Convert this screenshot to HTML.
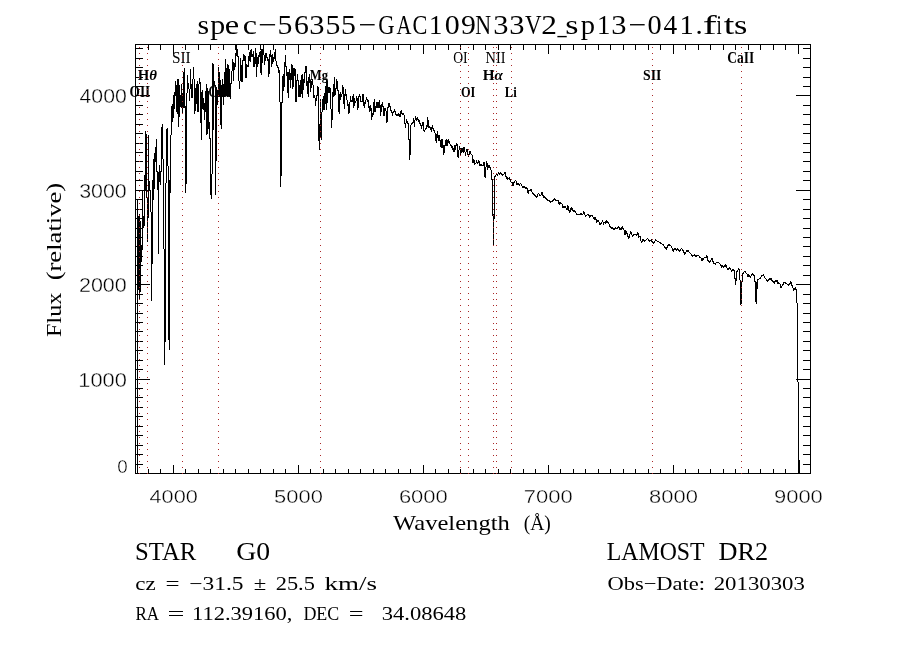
<!DOCTYPE html>
<html><head><meta charset="utf-8"><style>html,body{margin:0;padding:0;background:#fff;width:900px;height:650px;overflow:hidden}svg{display:block;will-change:transform}</style></head>
<body><svg width="900" height="650" viewBox="0 0 900 650" shape-rendering="crispEdges"><rect x="135.5" y="44.5" width="675" height="429" fill="none" stroke="#000" stroke-width="1"/><path d="M148.5 473V469M148.5 45V50M160.5 473V469M160.5 45V50M173.5 473V465M173.5 45V54M185.5 473V469M185.5 45V50M198.5 473V469M198.5 45V50M210.5 473V469M210.5 45V50M223.5 473V469M223.5 45V50M235.5 473V469M235.5 45V50M248.5 473V469M248.5 45V50M260.5 473V469M260.5 45V50M273.5 473V469M273.5 45V50M285.5 473V469M285.5 45V50M298.5 473V465M298.5 45V54M310.5 473V469M310.5 45V50M323.5 473V469M323.5 45V50M335.5 473V469M335.5 45V50M348.5 473V469M348.5 45V50M360.5 473V469M360.5 45V50M373.5 473V469M373.5 45V50M385.5 473V469M385.5 45V50M398.5 473V469M398.5 45V50M410.5 473V469M410.5 45V50M423.5 473V465M423.5 45V54M435.5 473V469M435.5 45V50M448.5 473V469M448.5 45V50M460.5 473V469M460.5 45V50M473.5 473V469M473.5 45V50M485.5 473V469M485.5 45V50M498.5 473V469M498.5 45V50M510.5 473V469M510.5 45V50M523.5 473V469M523.5 45V50M535.5 473V469M535.5 45V50M548.5 473V465M548.5 45V54M560.5 473V469M560.5 45V50M573.5 473V469M573.5 45V50M585.5 473V469M585.5 45V50M598.5 473V469M598.5 45V50M610.5 473V469M610.5 45V50M623.5 473V469M623.5 45V50M635.5 473V469M635.5 45V50M648.5 473V469M648.5 45V50M660.5 473V469M660.5 45V50M673.5 473V465M673.5 45V54M685.5 473V469M685.5 45V50M698.5 473V469M698.5 45V50M710.5 473V469M710.5 45V50M723.5 473V469M723.5 45V50M735.5 473V469M735.5 45V50M748.5 473V469M748.5 45V50M760.5 473V469M760.5 45V50M773.5 473V469M773.5 45V50M785.5 473V469M785.5 45V50M798.5 473V465M798.5 45V54" stroke="#000" stroke-width="1" fill="none"/><path d="M136 464.5H143M810 464.5H803M136 454.5H143M810 454.5H803M136 445.5H143M810 445.5H803M136 435.5H143M810 435.5H803M136 426.5H143M810 426.5H803M136 416.5H143M810 416.5H803M136 407.5H143M810 407.5H803M136 397.5H143M810 397.5H803M136 388.5H143M810 388.5H803M136 379.5H150M810 379.5H796M136 369.5H143M810 369.5H803M136 360.5H143M810 360.5H803M136 350.5H143M810 350.5H803M136 341.5H143M810 341.5H803M136 331.5H143M810 331.5H803M136 322.5H143M810 322.5H803M136 313.5H143M810 313.5H803M136 303.5H143M810 303.5H803M136 294.5H143M810 294.5H803M136 284.5H150M810 284.5H796M136 275.5H143M810 275.5H803M136 265.5H143M810 265.5H803M136 256.5H143M810 256.5H803M136 246.5H143M810 246.5H803M136 237.5H143M810 237.5H803M136 228.5H143M810 228.5H803M136 218.5H143M810 218.5H803M136 209.5H143M810 209.5H803M136 199.5H143M810 199.5H803M136 190.5H150M810 190.5H796M136 180.5H143M810 180.5H803M136 171.5H143M810 171.5H803M136 161.5H143M810 161.5H803M136 152.5H143M810 152.5H803M136 143.5H143M810 143.5H803M136 133.5H143M810 133.5H803M136 124.5H143M810 124.5H803M136 114.5H143M810 114.5H803M136 105.5H143M810 105.5H803M136 95.5H150M810 95.5H796M136 86.5H143M810 86.5H803M136 77.5H143M810 77.5H803M136 67.5H143M810 67.5H803M136 58.5H143M810 58.5H803M136 48.5H143M810 48.5H803" stroke="#000" stroke-width="1" fill="none"/><path d="M137 199h1v274h-1zM138 216h1v74h-1zM139 214h1v85h-1zM140 221h1v71h-1zM141 245h1v17h-1zM142 191h1v59h-1zM143 216h1v12h-1zM144 175h1v51h-1zM145 131h1v59h-1zM146 134h1v64h-1zM147 197h1v45h-1zM148 135h1v83h-1zM149 181h1v9h-1zM150 190h1v22h-1zM151 212h1v89h-1zM152 180h1v84h-1zM153 159h1v41h-1zM154 153h1v36h-1zM155 147h1v15h-1zM156 139h1v33h-1zM157 171h1v19h-1zM158 172h1v82h-1zM159 165h1v17h-1zM160 171h1v14h-1zM161 127h1v45h-1zM162 124h1v35h-1zM163 159h1v90h-1zM164 249h1v116h-1zM165 183h1v159h-1zM166 129h1v54h-1zM167 128h1v38h-1zM168 166h1v174h-1zM169 180h1v170h-1zM170 135h1v58h-1zM171 106h1v29h-1zM172 104h1v18h-1zM173 95h1v23h-1zM174 92h1v17h-1zM175 81h1v15h-1zM176 85h1v27h-1zM177 79h1v35h-1zM178 79h1v48h-1zM179 85h1v32h-1zM180 95h1v12h-1zM181 84h1v24h-1zM182 93h1v21h-1zM183 72h1v36h-1zM184 68h1v40h-1zM185 106h1v87h-1zM186 93h1v91h-1zM187 75h1v18h-1zM188 83h1v6h-1zM189 89h1v12h-1zM190 69h1v20h-1zM191 84h1v14h-1zM192 79h1v19h-1zM193 67h1v12h-1zM194 79h1v35h-1zM195 88h1v23h-1zM196 84h1v20h-1zM197 81h1v31h-1zM198 84h1v28h-1zM199 78h1v6h-1zM200 82h1v41h-1zM201 92h1v48h-1zM202 90h1v19h-1zM203 98h1v12h-1zM204 103h1v17h-1zM205 91h1v21h-1zM206 84h1v51h-1zM207 88h1v46h-1zM208 91h1v38h-1zM209 122h1v17h-1zM210 138h1v57h-1zM211 174h1v25h-1zM212 63h1v111h-1zM213 64h1v66h-1zM214 81h1v5h-1zM215 85h1v110h-1zM216 87h1v74h-1zM217 90h1v15h-1zM218 67h1v30h-1zM219 72h1v25h-1zM220 80h1v45h-1zM221 85h1v44h-1zM222 79h1v18h-1zM223 84h1v21h-1zM224 72h1v24h-1zM225 59h1v37h-1zM226 68h1v28h-1zM227 64h1v33h-1zM228 65h1v31h-1zM229 69h1v27h-1zM230 83h1v16h-1zM231 71h1v13h-1zM232 59h1v12h-1zM233 62h1v19h-1zM234 63h1v7h-1zM235 53h1v14h-1zM236 44h1v12h-1zM237 49h1v8h-1zM238 56h1v25h-1zM239 81h1v8h-1zM240 58h1v23h-1zM241 65h1v17h-1zM242 60h1v22h-1zM243 54h1v7h-1zM244 55h1v6h-1zM245 56h1v22h-1zM246 64h1v14h-1zM247 65h1v2h-1zM248 56h1v11h-1zM249 52h1v9h-1zM250 50h1v12h-1zM251 49h1v8h-1zM252 54h1v3h-1zM253 51h1v16h-1zM254 57h1v10h-1zM255 48h1v16h-1zM256 53h1v24h-1zM257 57h1v10h-1zM258 55h1v9h-1zM259 52h1v5h-1zM260 51h1v22h-1zM261 49h1v26h-1zM262 49h1v14h-1zM263 45h1v10h-1zM264 55h1v10h-1zM265 53h1v8h-1zM266 53h1v5h-1zM267 57h1v4h-1zM268 59h1v18h-1zM269 54h1v20h-1zM270 50h1v7h-1zM271 55h1v12h-1zM272 54h1v10h-1zM273 57h1v5h-1zM274 52h1v7h-1zM275 49h1v12h-1zM276 61h1v5h-1zM277 65h1v3h-1zM278 67h1v6h-1zM279 70h1v32h-1zM280 102h1v85h-1zM281 102h1v74h-1zM282 76h1v27h-1zM283 74h1v17h-1zM284 62h1v25h-1zM285 55h1v12h-1zM286 66h1v10h-1zM287 72h1v21h-1zM288 72h1v26h-1zM289 69h1v11h-1zM290 73h1v15h-1zM291 64h1v16h-1zM292 65h1v24h-1zM293 68h1v19h-1zM294 68h1v8h-1zM295 69h1v33h-1zM296 80h1v22h-1zM297 74h1v7h-1zM298 80h1v17h-1zM299 85h1v12h-1zM300 80h1v17h-1zM301 75h1v19h-1zM302 74h1v24h-1zM303 79h1v11h-1zM304 72h1v11h-1zM305 66h1v7h-1zM306 66h1v20h-1zM307 81h1v13h-1zM308 77h1v20h-1zM309 74h1v9h-1zM310 80h1v12h-1zM311 81h1v7h-1zM312 79h1v6h-1zM313 85h1v13h-1zM314 95h1v3h-1zM315 98h1v8h-1zM316 95h1v6h-1zM317 86h1v10h-1zM318 87h1v54h-1zM319 124h1v26h-1zM320 99h1v38h-1zM321 112h1v28h-1zM322 99h1v13h-1zM323 96h1v14h-1zM324 93h1v17h-1zM325 86h1v18h-1zM326 80h1v30h-1zM327 81h1v22h-1zM328 87h1v6h-1zM329 87h1v6h-1zM330 88h1v21h-1zM331 109h1v19h-1zM332 92h1v28h-1zM333 84h1v13h-1zM334 77h1v19h-1zM335 88h1v7h-1zM336 79h1v10h-1zM337 81h1v10h-1zM338 90h1v22h-1zM339 94h1v20h-1zM340 92h1v8h-1zM341 94h1v3h-1zM342 85h1v9h-1zM343 87h1v17h-1zM344 94h1v15h-1zM345 89h1v7h-1zM346 94h1v6h-1zM347 100h1v6h-1zM348 104h1v10h-1zM349 102h1v11h-1zM350 96h1v6h-1zM351 100h1v2h-1zM352 96h1v6h-1zM353 94h1v14h-1zM354 98h1v8h-1zM355 101h1v2h-1zM356 96h1v5h-1zM357 98h1v12h-1zM358 96h1v12h-1zM359 94h1v3h-1zM360 96h1v6h-1zM361 101h1v1h-1zM362 94h1v8h-1zM363 94h1v12h-1zM364 102h1v6h-1zM365 100h1v4h-1zM366 97h1v3h-1zM367 99h1v3h-1zM368 100h1v8h-1zM369 106h1v6h-1zM370 105h1v6h-1zM371 108h1v12h-1zM372 113h1v4h-1zM373 102h1v13h-1zM374 99h1v13h-1zM375 106h1v6h-1zM376 102h1v6h-1zM377 102h1v6h-1zM378 102h1v6h-1zM379 100h1v8h-1zM380 105h1v11h-1zM381 104h1v8h-1zM382 102h1v5h-1zM383 106h1v10h-1zM384 108h1v8h-1zM385 108h1v3h-1zM386 111h1v12h-1zM387 107h1v15h-1zM388 103h1v5h-1zM389 103h1v4h-1zM390 106h1v5h-1zM391 110h1v3h-1zM392 112h1v4h-1zM393 111h1v2h-1zM394 109h1v3h-1zM395 111h1v4h-1zM396 114h1v2h-1zM397 114h1v2h-1zM398 113h1v3h-1zM399 114h1v3h-1zM400 111h1v6h-1zM401 110h1v4h-1zM402 113h1v2h-1zM403 113h1v2h-1zM404 115h1v9h-1zM405 123h1v5h-1zM406 119h1v4h-1zM407 121h1v3h-1zM408 123h1v17h-1zM409 139h1v21h-1zM410 125h1v30h-1zM411 123h1v2h-1zM412 122h1v2h-1zM413 118h1v5h-1zM414 120h1v7h-1zM415 116h1v4h-1zM416 118h1v3h-1zM417 117h1v3h-1zM418 119h1v3h-1zM419 120h1v4h-1zM420 123h1v3h-1zM421 125h1v4h-1zM422 122h1v4h-1zM423 122h1v9h-1zM424 130h1v2h-1zM425 128h1v2h-1zM426 125h1v4h-1zM427 117h1v10h-1zM428 120h1v8h-1zM429 126h1v2h-1zM430 127h1v3h-1zM431 127h1v5h-1zM432 125h1v4h-1zM433 128h1v3h-1zM434 130h1v3h-1zM435 133h1v8h-1zM436 134h1v9h-1zM437 131h1v7h-1zM438 135h1v6h-1zM439 135h1v6h-1zM440 140h1v7h-1zM441 139h1v9h-1zM442 139h1v9h-1zM443 145h1v10h-1zM444 145h1v8h-1zM445 140h1v6h-1zM446 139h1v7h-1zM447 140h1v6h-1zM448 139h1v4h-1zM449 141h1v3h-1zM450 144h1v2h-1zM451 145h1v3h-1zM452 146h1v4h-1zM453 148h1v4h-1zM454 145h1v7h-1zM455 145h1v5h-1zM456 143h1v3h-1zM457 144h1v13h-1zM458 150h1v8h-1zM459 146h1v4h-1zM460 148h1v7h-1zM461 148h1v5h-1zM462 148h1v4h-1zM463 147h1v6h-1zM464 147h1v5h-1zM465 152h1v4h-1zM466 149h1v3h-1zM467 149h1v6h-1zM468 154h1v3h-1zM469 151h1v4h-1zM470 151h1v3h-1zM471 154h1v1h-1zM472 155h1v8h-1zM473 159h1v4h-1zM474 160h1v5h-1zM475 163h1v1h-1zM476 160h1v3h-1zM477 162h1v2h-1zM478 160h1v3h-1zM479 161h1v5h-1zM480 164h1v2h-1zM481 164h1v2h-1zM482 165h1v1h-1zM483 162h1v4h-1zM484 162h1v15h-1zM485 167h1v11h-1zM486 161h1v6h-1zM487 163h1v7h-1zM488 165h1v3h-1zM489 165h1v3h-1zM490 167h1v3h-1zM491 170h1v10h-1zM492 179h1v37h-1zM493 214h1v31h-1zM494 176h1v43h-1zM495 175h1v2h-1zM496 174h1v1h-1zM497 174h1v2h-1zM498 172h1v2h-1zM499 173h1v2h-1zM500 172h1v2h-1zM501 173h1v2h-1zM502 174h1v2h-1zM503 174h1v1h-1zM504 172h1v2h-1zM505 172h1v5h-1zM506 176h1v3h-1zM507 177h1v3h-1zM508 178h1v1h-1zM509 177h1v3h-1zM510 179h1v3h-1zM511 182h1v1h-1zM512 182h1v4h-1zM513 182h1v4h-1zM514 181h1v2h-1zM515 180h1v1h-1zM516 181h1v4h-1zM517 183h1v2h-1zM518 183h1v2h-1zM519 184h1v2h-1zM520 183h1v1h-1zM521 184h1v2h-1zM522 186h1v2h-1zM523 186h1v2h-1zM524 186h1v2h-1zM525 187h1v2h-1zM526 187h1v2h-1zM527 188h1v5h-1zM528 190h1v4h-1zM529 190h1v1h-1zM530 189h1v2h-1zM531 189h1v3h-1zM532 192h1v2h-1zM533 193h1v2h-1zM534 194h1v2h-1zM535 195h1v2h-1zM536 196h1v2h-1zM537 194h1v3h-1zM538 193h1v1h-1zM539 194h1v2h-1zM540 195h1v1h-1zM541 192h1v3h-1zM542 192h1v4h-1zM543 195h1v3h-1zM544 196h1v2h-1zM545 197h1v2h-1zM546 198h1v2h-1zM547 199h1v2h-1zM548 200h1v1h-1zM549 200h1v2h-1zM550 201h1v2h-1zM551 201h1v1h-1zM552 200h1v2h-1zM553 199h1v2h-1zM554 198h1v2h-1zM555 199h1v2h-1zM556 200h1v1h-1zM557 200h1v1h-1zM558 200h1v4h-1zM559 202h1v3h-1zM560 202h1v2h-1zM561 203h1v1h-1zM562 204h1v4h-1zM563 206h1v2h-1zM564 206h1v2h-1zM565 206h1v2h-1zM566 208h1v2h-1zM567 205h1v5h-1zM568 206h1v5h-1zM569 210h1v3h-1zM570 208h1v4h-1zM571 207h1v3h-1zM572 208h1v3h-1zM573 210h1v2h-1zM574 210h1v2h-1zM575 211h1v2h-1zM576 213h1v2h-1zM577 214h1v1h-1zM578 214h1v1h-1zM579 214h1v1h-1zM580 213h1v2h-1zM581 213h1v2h-1zM582 214h1v1h-1zM583 211h1v3h-1zM584 212h1v3h-1zM585 215h1v2h-1zM586 215h1v1h-1zM587 214h1v1h-1zM588 214h1v2h-1zM589 215h1v3h-1zM590 215h1v2h-1zM591 215h1v1h-1zM592 215h1v2h-1zM593 217h1v2h-1zM594 217h1v3h-1zM595 217h1v3h-1zM596 219h1v4h-1zM597 220h1v2h-1zM598 220h1v2h-1zM599 222h1v3h-1zM600 223h1v2h-1zM601 222h1v2h-1zM602 220h1v2h-1zM603 222h1v3h-1zM604 222h1v1h-1zM605 221h1v3h-1zM606 220h1v3h-1zM607 221h1v2h-1zM608 222h1v2h-1zM609 224h1v3h-1zM610 226h1v2h-1zM611 227h1v2h-1zM612 227h1v2h-1zM613 228h1v2h-1zM614 228h1v2h-1zM615 227h1v2h-1zM616 228h1v1h-1zM617 227h1v2h-1zM618 226h1v2h-1zM619 227h1v3h-1zM620 228h1v2h-1zM621 227h1v3h-1zM622 226h1v3h-1zM623 228h1v2h-1zM624 230h1v5h-1zM625 230h1v5h-1zM626 231h1v3h-1zM627 233h1v4h-1zM628 236h1v3h-1zM629 234h1v4h-1zM630 231h1v3h-1zM631 232h1v3h-1zM632 235h1v2h-1zM633 234h1v2h-1zM634 234h1v1h-1zM635 234h1v1h-1zM636 234h1v2h-1zM637 232h1v3h-1zM638 233h1v5h-1zM639 236h1v1h-1zM640 236h1v5h-1zM641 241h1v2h-1zM642 239h1v3h-1zM643 239h1v2h-1zM644 240h1v2h-1zM645 240h1v1h-1zM646 239h1v1h-1zM647 238h1v1h-1zM648 239h1v2h-1zM649 240h1v2h-1zM650 240h1v1h-1zM651 239h1v3h-1zM652 241h1v2h-1zM653 242h1v2h-1zM654 241h1v2h-1zM655 239h1v2h-1zM656 240h1v1h-1zM657 241h1v1h-1zM658 241h1v1h-1zM659 242h1v1h-1zM660 242h1v2h-1zM661 243h1v1h-1zM662 244h1v1h-1zM663 244h1v2h-1zM664 246h1v2h-1zM665 247h1v2h-1zM666 247h1v3h-1zM667 245h1v3h-1zM668 244h1v2h-1zM669 244h1v2h-1zM670 245h1v1h-1zM671 246h1v2h-1zM672 248h1v3h-1zM673 249h1v3h-1zM674 248h1v2h-1zM675 248h1v2h-1zM676 249h1v2h-1zM677 248h1v2h-1zM678 249h1v2h-1zM679 250h1v2h-1zM680 249h1v2h-1zM681 248h1v1h-1zM682 249h1v2h-1zM683 250h1v3h-1zM684 252h1v3h-1zM685 252h1v2h-1zM686 250h1v2h-1zM687 250h1v2h-1zM688 250h1v2h-1zM689 252h1v1h-1zM690 253h1v1h-1zM691 254h1v2h-1zM692 255h1v2h-1zM693 255h1v1h-1zM694 254h1v2h-1zM695 255h1v2h-1zM696 255h1v2h-1zM697 255h1v1h-1zM698 255h1v1h-1zM699 256h1v2h-1zM700 257h1v1h-1zM701 258h1v3h-1zM702 258h1v3h-1zM703 258h1v2h-1zM704 257h1v1h-1zM705 257h1v1h-1zM706 255h1v3h-1zM707 256h1v5h-1zM708 260h1v2h-1zM709 261h1v2h-1zM710 260h1v2h-1zM711 258h1v2h-1zM712 258h1v4h-1zM713 261h1v3h-1zM714 263h1v1h-1zM715 263h1v2h-1zM716 262h1v1h-1zM717 262h1v1h-1zM718 262h1v1h-1zM719 263h1v1h-1zM720 264h1v2h-1zM721 265h1v3h-1zM722 265h1v2h-1zM723 266h1v2h-1zM724 265h1v2h-1zM725 264h1v3h-1zM726 265h1v3h-1zM727 268h1v2h-1zM728 268h1v2h-1zM729 267h1v2h-1zM730 268h1v2h-1zM731 270h1v2h-1zM732 269h1v2h-1zM733 269h1v2h-1zM734 270h1v9h-1zM735 278h1v7h-1zM736 271h1v10h-1zM737 270h1v2h-1zM738 268h1v2h-1zM739 269h1v11h-1zM740 280h1v25h-1zM741 281h1v23h-1zM742 273h1v9h-1zM743 272h1v2h-1zM744 271h1v1h-1zM745 271h1v2h-1zM746 273h1v1h-1zM747 274h1v3h-1zM748 274h1v3h-1zM749 275h1v2h-1zM750 276h1v2h-1zM751 274h1v2h-1zM752 273h1v2h-1zM753 274h1v2h-1zM754 275h1v7h-1zM755 281h1v21h-1zM756 282h1v22h-1zM757 279h1v10h-1zM758 279h1v1h-1zM759 278h1v1h-1zM760 277h1v2h-1zM761 275h1v2h-1zM762 275h1v1h-1zM763 274h1v2h-1zM764 276h1v2h-1zM765 278h1v1h-1zM766 279h1v2h-1zM767 280h1v2h-1zM768 279h1v2h-1zM769 278h1v2h-1zM770 278h1v2h-1zM771 278h1v3h-1zM772 280h1v2h-1zM773 281h1v2h-1zM774 281h1v3h-1zM775 280h1v2h-1zM776 280h1v2h-1zM777 280h1v4h-1zM778 282h1v2h-1zM779 283h1v1h-1zM780 284h1v4h-1zM781 286h1v2h-1zM782 284h1v2h-1zM783 282h1v3h-1zM784 282h1v1h-1zM785 282h1v2h-1zM786 283h1v1h-1zM787 284h1v1h-1zM788 284h1v2h-1zM789 283h1v2h-1zM790 281h1v3h-1zM791 282h1v4h-1zM792 285h1v3h-1zM793 288h1v3h-1zM794 288h1v2h-1zM795 287h1v3h-1zM796 289h1v14h-1zM797 303h1v79h-1zM798 382h1v91h-1zM799 460h1v13h-1z" fill="#000"/><text transform="translate(197.48,34.00) scale(1.0843,1)" font-size="27.49" font-family="Liberation Serif"  >s</text><text transform="translate(210.22,34.00) scale(1.0877,1)" font-size="27.49" font-family="Liberation Serif"  >p</text><text transform="translate(224.73,34.00) scale(1.1794,1)" font-size="27.49" font-family="Liberation Serif"  >e</text><text transform="translate(242.78,34.00) scale(1.1641,1)" font-size="27.49" font-family="Liberation Serif"  >c</text><text transform="translate(258.36,34.00) scale(1.1961,1)" font-size="27.49" font-family="Liberation Serif"  >−</text><text transform="translate(277.57,34.00) scale(1.0836,1)" font-size="27.49" font-family="Liberation Serif"  >5</text><text transform="translate(294.02,34.00) scale(1.0813,1)" font-size="27.49" font-family="Liberation Serif"  >6</text><text transform="translate(309.24,34.00) scale(1.1096,1)" font-size="27.49" font-family="Liberation Serif"  >3</text><text transform="translate(325.57,34.00) scale(1.0836,1)" font-size="27.49" font-family="Liberation Serif"  >5</text><text transform="translate(340.97,34.00) scale(1.0836,1)" font-size="27.49" font-family="Liberation Serif"  >5</text><text transform="translate(358.43,34.00) scale(1.1492,1)" font-size="27.49" font-family="Liberation Serif"  >−</text><text transform="translate(378.37,34.00) scale(0.8228,1)" font-size="27.49" font-family="Liberation Serif"  >G</text><text transform="translate(396.50,34.00) scale(0.7533,1)" font-size="27.49" font-family="Liberation Serif"  >A</text><text transform="translate(412.39,34.00) scale(0.8094,1)" font-size="27.49" font-family="Liberation Serif"  >C</text><text transform="translate(428.95,34.00) scale(0.9713,1)" font-size="27.49" font-family="Liberation Serif"  >1</text><text transform="translate(444.86,34.00) scale(1.0900,1)" font-size="27.49" font-family="Liberation Serif"  >0</text><text transform="translate(461.04,34.00) scale(1.0826,1)" font-size="27.49" font-family="Liberation Serif"  >9</text><text transform="translate(475.37,34.00) scale(0.7976,1)" font-size="27.49" font-family="Liberation Serif"  >N</text><text transform="translate(493.24,34.00) scale(1.1096,1)" font-size="27.49" font-family="Liberation Serif"  >3</text><text transform="translate(509.24,34.00) scale(1.1096,1)" font-size="27.49" font-family="Liberation Serif"  >3</text><text transform="translate(525.04,34.00) scale(0.8318,1)" font-size="27.49" font-family="Liberation Serif"  >V</text><text transform="translate(541.32,34.00) scale(1.1434,1)" font-size="27.49" font-family="Liberation Serif"  >2</text><text transform="translate(557.44,34.00) scale(0.6632,1)" font-size="27.49" font-family="Liberation Serif"  >_</text><text transform="translate(565.31,34.00) scale(1.2358,1)" font-size="27.49" font-family="Liberation Serif"  >s</text><text transform="translate(580.84,34.00) scale(1.0386,1)" font-size="27.49" font-family="Liberation Serif"  >p</text><text transform="translate(596.95,34.00) scale(0.9713,1)" font-size="27.49" font-family="Liberation Serif"  >1</text><text transform="translate(611.24,34.00) scale(1.1096,1)" font-size="27.49" font-family="Liberation Serif"  >3</text><text transform="translate(628.43,34.00) scale(1.1492,1)" font-size="27.49" font-family="Liberation Serif"  >−</text><text transform="translate(647.62,34.00) scale(1.0300,1)" font-size="27.49" font-family="Liberation Serif"  >0</text><text transform="translate(663.47,34.00) scale(0.9939,1)" font-size="27.49" font-family="Liberation Serif"  >4</text><text transform="translate(679.50,34.00) scale(1.0333,1)" font-size="27.49" font-family="Liberation Serif"  >1</text><text transform="translate(695.40,34.00) scale(1.0467,1)" font-size="27.49" font-family="Liberation Serif"  >.</text><text transform="translate(702.71,34.00) scale(1.5285,1)" font-size="27.49" font-family="Liberation Serif"  >f</text><text transform="translate(716.60,34.00) scale(0.6884,1)" font-size="27.49" font-family="Liberation Serif"  >i</text><text transform="translate(723.63,34.00) scale(1.3873,1)" font-size="27.49" font-family="Liberation Serif"  >t</text><text transform="translate(733.89,34.00) scale(1.2475,1)" font-size="27.49" font-family="Liberation Serif"  >s</text><text transform="translate(149.50,503.40) scale(1.1325,1)" font-size="19.19" font-family="Liberation Sans" stroke="#fff" stroke-width="0.35">4000</text><text transform="translate(274.12,503.40) scale(1.1415,1)" font-size="19.19" font-family="Liberation Sans" stroke="#fff" stroke-width="0.35">5000</text><text transform="translate(398.88,503.40) scale(1.1472,1)" font-size="19.19" font-family="Liberation Sans" stroke="#fff" stroke-width="0.35">6000</text><text transform="translate(523.87,503.40) scale(1.1475,1)" font-size="19.19" font-family="Liberation Sans" stroke="#fff" stroke-width="0.35">7000</text><text transform="translate(649.05,503.40) scale(1.1433,1)" font-size="19.19" font-family="Liberation Sans" stroke="#fff" stroke-width="0.35">8000</text><text transform="translate(773.97,503.40) scale(1.1451,1)" font-size="19.19" font-family="Liberation Sans" stroke="#fff" stroke-width="0.35">9000</text><text transform="translate(79.51,103.40) scale(1.1002,1)" font-size="19.33" font-family="Liberation Sans" stroke="#fff" stroke-width="0.35">4000</text><text transform="translate(79.18,198.40) scale(1.1079,1)" font-size="19.33" font-family="Liberation Sans" stroke="#fff" stroke-width="0.35">3000</text><text transform="translate(78.92,292.40) scale(1.1142,1)" font-size="19.33" font-family="Liberation Sans" stroke="#fff" stroke-width="0.35">2000</text><text transform="translate(78.34,387.40) scale(1.1279,1)" font-size="19.33" font-family="Liberation Sans" stroke="#fff" stroke-width="0.35">1000</text><text transform="translate(117.26,473.40) scale(0.9810,1)" font-size="19.19" font-family="Liberation Sans" stroke="#fff" stroke-width="0.35">0</text><text transform="translate(392.98,529.50) scale(1.1932,1)" font-size="20.62" font-family="Liberation Serif"  >Wavelength</text><text transform="translate(523.64,529.50) scale(0.9512,1)" font-size="20.62" font-family="Liberation Serif"  >(Å)</text><text transform="translate(61.3,336.3) rotate(-90) translate(-0.70,0.00) scale(1.1376,1)" font-size="21.23" font-family="Liberation Serif"  >Flux</text><text transform="translate(61.3,336.3) rotate(-90) translate(55.93,0.00) scale(1.2553,1)" font-size="21.23" font-family="Liberation Serif"  >(relative)</text><text transform="translate(135.04,560.00) scale(0.9537,1)" font-size="25.96" font-family="Liberation Serif"  >STAR</text><text transform="translate(236.36,560.00) scale(1.0682,1)" font-size="25.96" font-family="Liberation Serif"  >G0</text><text transform="translate(135.22,590) scale(1.1897,1)" font-size="19.33" font-family="Liberation Serif"  >cz</text><text transform="translate(165.46,590) scale(1.2895,1)" font-size="19.33" font-family="Liberation Serif"  >=</text><text transform="translate(189.33,590.00) scale(1.2135,1)" font-size="19.33" font-family="Liberation Serif"  >−31.5</text><text transform="translate(253.75,590) scale(1.1783,1)" font-size="19.33" font-family="Liberation Serif"  >±</text><text transform="translate(275.72,590.00) scale(1.1574,1)" font-size="19.33" font-family="Liberation Serif"  >25.5</text><text transform="translate(324.49,590.00) scale(1.3961,1)" font-size="19.33" font-family="Liberation Serif"  >km/s</text><text transform="translate(135.51,620.00) scale(0.8658,1)" font-size="19.63" font-family="Liberation Serif"  >RA</text><text transform="translate(167.50,620) scale(1.5323,1)" font-size="19.63" font-family="Liberation Serif"  >=</text><text transform="translate(192.02,620.00) scale(1.1477,1)" font-size="19.63" font-family="Liberation Serif"  >112.39160,</text><text transform="translate(303.38,620.00) scale(0.9144,1)" font-size="19.63" font-family="Liberation Serif"  >DEC</text><text transform="translate(348.69,620) scale(1.3353,1)" font-size="19.63" font-family="Liberation Serif"  >=</text><text transform="translate(381.72,620.00) scale(1.1509,1)" font-size="19.63" font-family="Liberation Serif"  >34.08648</text><text transform="translate(606.81,560.00) scale(0.9438,1)" font-size="25.20" font-family="Liberation Serif"  >LAMOST</text><text transform="translate(718.44,560.00) scale(1.0420,1)" font-size="25.20" font-family="Liberation Serif"  >DR2</text><text transform="translate(607.38,589.50) scale(1.1988,1)" font-size="18.78" font-family="Liberation Serif"  >Obs−Date:</text><text transform="translate(713.70,589.50) scale(1.2327,1)" font-size="18.50" font-family="Liberation Serif"  >20130303</text><text transform="translate(129.55,96.60) scale(0.8374,1)" font-size="15.88" font-family="Liberation Serif" font-weight="bold" >OII</text><text transform="translate(137.65,79.90) scale(0.9809,1)" font-size="15.12" font-family="Liberation Serif" font-weight="bold" >H<tspan font-style="italic">θ</tspan></text><text transform="translate(171.97,62.60) scale(0.9668,1)" font-size="15.88" font-family="Liberation Serif"  >SII</text><text transform="translate(208.44,97.00) scale(0.6828,1)" font-size="16.80" font-family="Liberation Serif" font-weight="bold" >CaII</text><text transform="translate(309.78,80.00) scale(0.8318,1)" font-size="15.27" font-family="Liberation Serif" font-weight="bold" >Mg</text><text transform="translate(453.24,63.00) scale(0.8455,1)" font-size="16.19" font-family="Liberation Serif"  >OI</text><text transform="translate(485.59,63.00) scale(0.8863,1)" font-size="16.19" font-family="Liberation Serif"  >NII</text><text transform="translate(482.64,80.00) scale(0.9907,1)" font-size="15.27" font-family="Liberation Serif" font-weight="bold" >H<tspan font-style="italic">α</tspan></text><text transform="translate(461.00,96.70) scale(0.8341,1)" font-size="14.81" font-family="Liberation Serif" font-weight="bold" >OI</text><text transform="translate(504.78,96.70) scale(0.8576,1)" font-size="14.81" font-family="Liberation Serif" font-weight="bold" >Li</text><text transform="translate(643.07,80.00) scale(0.9027,1)" font-size="15.27" font-family="Liberation Serif" font-weight="bold" >SII</text><text transform="translate(727.24,63.00) scale(0.8038,1)" font-size="16.80" font-family="Liberation Serif" font-weight="bold" >CaII</text><path d="M139 47h1v1h-1zM139 53h1v1h-1zM139 59h1v1h-1zM139 65h1v1h-1zM139 71h1v1h-1zM139 77h1v1h-1zM139 83h1v1h-1zM139 89h1v1h-1zM139 95h1v1h-1zM139 101h1v1h-1zM139 107h1v1h-1zM139 113h1v1h-1zM139 119h1v1h-1zM139 125h1v1h-1zM139 131h1v1h-1zM139 137h1v1h-1zM139 143h1v1h-1zM139 149h1v1h-1zM139 155h1v1h-1zM139 161h1v1h-1zM139 167h1v1h-1zM139 173h1v1h-1zM139 179h1v1h-1zM139 185h1v1h-1zM139 191h1v1h-1zM139 197h1v1h-1zM139 203h1v1h-1zM139 209h1v1h-1zM139 215h1v1h-1zM139 221h1v1h-1zM139 227h1v1h-1zM139 233h1v1h-1zM139 239h1v1h-1zM139 245h1v1h-1zM139 251h1v1h-1zM139 257h1v1h-1zM139 263h1v1h-1zM139 269h1v1h-1zM139 275h1v1h-1zM139 281h1v1h-1zM139 287h1v1h-1zM139 293h1v1h-1zM139 299h1v1h-1zM139 305h1v1h-1zM139 311h1v1h-1zM139 317h1v1h-1zM139 323h1v1h-1zM139 329h1v1h-1zM139 335h1v1h-1zM139 341h1v1h-1zM139 347h1v1h-1zM139 353h1v1h-1zM139 359h1v1h-1zM139 365h1v1h-1zM139 371h1v1h-1zM139 377h1v1h-1zM139 383h1v1h-1zM139 389h1v1h-1zM139 395h1v1h-1zM139 401h1v1h-1zM139 407h1v1h-1zM139 413h1v1h-1zM139 419h1v1h-1zM139 425h1v1h-1zM139 431h1v1h-1zM139 437h1v1h-1zM139 443h1v1h-1zM139 449h1v1h-1zM139 455h1v1h-1zM139 461h1v1h-1zM139 467h1v1h-1zM139 473h1v1h-1zM147 47h1v1h-1zM147 53h1v1h-1zM147 59h1v1h-1zM147 65h1v1h-1zM147 71h1v1h-1zM147 77h1v1h-1zM147 83h1v1h-1zM147 89h1v1h-1zM147 95h1v1h-1zM147 101h1v1h-1zM147 107h1v1h-1zM147 113h1v1h-1zM147 119h1v1h-1zM147 125h1v1h-1zM147 131h1v1h-1zM147 137h1v1h-1zM147 143h1v1h-1zM147 149h1v1h-1zM147 155h1v1h-1zM147 161h1v1h-1zM147 167h1v1h-1zM147 173h1v1h-1zM147 179h1v1h-1zM147 185h1v1h-1zM147 191h1v1h-1zM147 197h1v1h-1zM147 203h1v1h-1zM147 209h1v1h-1zM147 215h1v1h-1zM147 221h1v1h-1zM147 227h1v1h-1zM147 233h1v1h-1zM147 239h1v1h-1zM147 245h1v1h-1zM147 251h1v1h-1zM147 257h1v1h-1zM147 263h1v1h-1zM147 269h1v1h-1zM147 275h1v1h-1zM147 281h1v1h-1zM147 287h1v1h-1zM147 293h1v1h-1zM147 299h1v1h-1zM147 305h1v1h-1zM147 311h1v1h-1zM147 317h1v1h-1zM147 323h1v1h-1zM147 329h1v1h-1zM147 335h1v1h-1zM147 341h1v1h-1zM147 347h1v1h-1zM147 353h1v1h-1zM147 359h1v1h-1zM147 365h1v1h-1zM147 371h1v1h-1zM147 377h1v1h-1zM147 383h1v1h-1zM147 389h1v1h-1zM147 395h1v1h-1zM147 401h1v1h-1zM147 407h1v1h-1zM147 413h1v1h-1zM147 419h1v1h-1zM147 425h1v1h-1zM147 431h1v1h-1zM147 437h1v1h-1zM147 443h1v1h-1zM147 449h1v1h-1zM147 455h1v1h-1zM147 461h1v1h-1zM147 467h1v1h-1zM147 473h1v1h-1zM182 47h1v1h-1zM182 53h1v1h-1zM182 59h1v1h-1zM182 65h1v1h-1zM182 71h1v1h-1zM182 77h1v1h-1zM182 83h1v1h-1zM182 89h1v1h-1zM182 95h1v1h-1zM182 101h1v1h-1zM182 107h1v1h-1zM182 113h1v1h-1zM182 119h1v1h-1zM182 125h1v1h-1zM182 131h1v1h-1zM182 137h1v1h-1zM182 143h1v1h-1zM182 149h1v1h-1zM182 155h1v1h-1zM182 161h1v1h-1zM182 167h1v1h-1zM182 173h1v1h-1zM182 179h1v1h-1zM182 185h1v1h-1zM182 191h1v1h-1zM182 197h1v1h-1zM182 203h1v1h-1zM182 209h1v1h-1zM182 215h1v1h-1zM182 221h1v1h-1zM182 227h1v1h-1zM182 233h1v1h-1zM182 239h1v1h-1zM182 245h1v1h-1zM182 251h1v1h-1zM182 257h1v1h-1zM182 263h1v1h-1zM182 269h1v1h-1zM182 275h1v1h-1zM182 281h1v1h-1zM182 287h1v1h-1zM182 293h1v1h-1zM182 299h1v1h-1zM182 305h1v1h-1zM182 311h1v1h-1zM182 317h1v1h-1zM182 323h1v1h-1zM182 329h1v1h-1zM182 335h1v1h-1zM182 341h1v1h-1zM182 347h1v1h-1zM182 353h1v1h-1zM182 359h1v1h-1zM182 365h1v1h-1zM182 371h1v1h-1zM182 377h1v1h-1zM182 383h1v1h-1zM182 389h1v1h-1zM182 395h1v1h-1zM182 401h1v1h-1zM182 407h1v1h-1zM182 413h1v1h-1zM182 419h1v1h-1zM182 425h1v1h-1zM182 431h1v1h-1zM182 437h1v1h-1zM182 443h1v1h-1zM182 449h1v1h-1zM182 455h1v1h-1zM182 461h1v1h-1zM182 467h1v1h-1zM182 473h1v1h-1zM218 47h1v1h-1zM218 53h1v1h-1zM218 59h1v1h-1zM218 65h1v1h-1zM218 71h1v1h-1zM218 77h1v1h-1zM218 83h1v1h-1zM218 89h1v1h-1zM218 95h1v1h-1zM218 101h1v1h-1zM218 107h1v1h-1zM218 113h1v1h-1zM218 119h1v1h-1zM218 125h1v1h-1zM218 131h1v1h-1zM218 137h1v1h-1zM218 143h1v1h-1zM218 149h1v1h-1zM218 155h1v1h-1zM218 161h1v1h-1zM218 167h1v1h-1zM218 173h1v1h-1zM218 179h1v1h-1zM218 185h1v1h-1zM218 191h1v1h-1zM218 197h1v1h-1zM218 203h1v1h-1zM218 209h1v1h-1zM218 215h1v1h-1zM218 221h1v1h-1zM218 227h1v1h-1zM218 233h1v1h-1zM218 239h1v1h-1zM218 245h1v1h-1zM218 251h1v1h-1zM218 257h1v1h-1zM218 263h1v1h-1zM218 269h1v1h-1zM218 275h1v1h-1zM218 281h1v1h-1zM218 287h1v1h-1zM218 293h1v1h-1zM218 299h1v1h-1zM218 305h1v1h-1zM218 311h1v1h-1zM218 317h1v1h-1zM218 323h1v1h-1zM218 329h1v1h-1zM218 335h1v1h-1zM218 341h1v1h-1zM218 347h1v1h-1zM218 353h1v1h-1zM218 359h1v1h-1zM218 365h1v1h-1zM218 371h1v1h-1zM218 377h1v1h-1zM218 383h1v1h-1zM218 389h1v1h-1zM218 395h1v1h-1zM218 401h1v1h-1zM218 407h1v1h-1zM218 413h1v1h-1zM218 419h1v1h-1zM218 425h1v1h-1zM218 431h1v1h-1zM218 437h1v1h-1zM218 443h1v1h-1zM218 449h1v1h-1zM218 455h1v1h-1zM218 461h1v1h-1zM218 467h1v1h-1zM218 473h1v1h-1zM320 47h1v1h-1zM320 53h1v1h-1zM320 59h1v1h-1zM320 65h1v1h-1zM320 71h1v1h-1zM320 77h1v1h-1zM320 83h1v1h-1zM320 89h1v1h-1zM320 95h1v1h-1zM320 101h1v1h-1zM320 107h1v1h-1zM320 113h1v1h-1zM320 119h1v1h-1zM320 125h1v1h-1zM320 131h1v1h-1zM320 137h1v1h-1zM320 143h1v1h-1zM320 149h1v1h-1zM320 155h1v1h-1zM320 161h1v1h-1zM320 167h1v1h-1zM320 173h1v1h-1zM320 179h1v1h-1zM320 185h1v1h-1zM320 191h1v1h-1zM320 197h1v1h-1zM320 203h1v1h-1zM320 209h1v1h-1zM320 215h1v1h-1zM320 221h1v1h-1zM320 227h1v1h-1zM320 233h1v1h-1zM320 239h1v1h-1zM320 245h1v1h-1zM320 251h1v1h-1zM320 257h1v1h-1zM320 263h1v1h-1zM320 269h1v1h-1zM320 275h1v1h-1zM320 281h1v1h-1zM320 287h1v1h-1zM320 293h1v1h-1zM320 299h1v1h-1zM320 305h1v1h-1zM320 311h1v1h-1zM320 317h1v1h-1zM320 323h1v1h-1zM320 329h1v1h-1zM320 335h1v1h-1zM320 341h1v1h-1zM320 347h1v1h-1zM320 353h1v1h-1zM320 359h1v1h-1zM320 365h1v1h-1zM320 371h1v1h-1zM320 377h1v1h-1zM320 383h1v1h-1zM320 389h1v1h-1zM320 395h1v1h-1zM320 401h1v1h-1zM320 407h1v1h-1zM320 413h1v1h-1zM320 419h1v1h-1zM320 425h1v1h-1zM320 431h1v1h-1zM320 437h1v1h-1zM320 443h1v1h-1zM320 449h1v1h-1zM320 455h1v1h-1zM320 461h1v1h-1zM320 467h1v1h-1zM320 473h1v1h-1zM460 47h1v1h-1zM460 53h1v1h-1zM460 59h1v1h-1zM460 65h1v1h-1zM460 71h1v1h-1zM460 77h1v1h-1zM460 83h1v1h-1zM460 89h1v1h-1zM460 95h1v1h-1zM460 101h1v1h-1zM460 107h1v1h-1zM460 113h1v1h-1zM460 119h1v1h-1zM460 125h1v1h-1zM460 131h1v1h-1zM460 137h1v1h-1zM460 143h1v1h-1zM460 149h1v1h-1zM460 155h1v1h-1zM460 161h1v1h-1zM460 167h1v1h-1zM460 173h1v1h-1zM460 179h1v1h-1zM460 185h1v1h-1zM460 191h1v1h-1zM460 197h1v1h-1zM460 203h1v1h-1zM460 209h1v1h-1zM460 215h1v1h-1zM460 221h1v1h-1zM460 227h1v1h-1zM460 233h1v1h-1zM460 239h1v1h-1zM460 245h1v1h-1zM460 251h1v1h-1zM460 257h1v1h-1zM460 263h1v1h-1zM460 269h1v1h-1zM460 275h1v1h-1zM460 281h1v1h-1zM460 287h1v1h-1zM460 293h1v1h-1zM460 299h1v1h-1zM460 305h1v1h-1zM460 311h1v1h-1zM460 317h1v1h-1zM460 323h1v1h-1zM460 329h1v1h-1zM460 335h1v1h-1zM460 341h1v1h-1zM460 347h1v1h-1zM460 353h1v1h-1zM460 359h1v1h-1zM460 365h1v1h-1zM460 371h1v1h-1zM460 377h1v1h-1zM460 383h1v1h-1zM460 389h1v1h-1zM460 395h1v1h-1zM460 401h1v1h-1zM460 407h1v1h-1zM460 413h1v1h-1zM460 419h1v1h-1zM460 425h1v1h-1zM460 431h1v1h-1zM460 437h1v1h-1zM460 443h1v1h-1zM460 449h1v1h-1zM460 455h1v1h-1zM460 461h1v1h-1zM460 467h1v1h-1zM460 473h1v1h-1zM468 47h1v1h-1zM468 53h1v1h-1zM468 59h1v1h-1zM468 65h1v1h-1zM468 71h1v1h-1zM468 77h1v1h-1zM468 83h1v1h-1zM468 89h1v1h-1zM468 95h1v1h-1zM468 101h1v1h-1zM468 107h1v1h-1zM468 113h1v1h-1zM468 119h1v1h-1zM468 125h1v1h-1zM468 131h1v1h-1zM468 137h1v1h-1zM468 143h1v1h-1zM468 149h1v1h-1zM468 155h1v1h-1zM468 161h1v1h-1zM468 167h1v1h-1zM468 173h1v1h-1zM468 179h1v1h-1zM468 185h1v1h-1zM468 191h1v1h-1zM468 197h1v1h-1zM468 203h1v1h-1zM468 209h1v1h-1zM468 215h1v1h-1zM468 221h1v1h-1zM468 227h1v1h-1zM468 233h1v1h-1zM468 239h1v1h-1zM468 245h1v1h-1zM468 251h1v1h-1zM468 257h1v1h-1zM468 263h1v1h-1zM468 269h1v1h-1zM468 275h1v1h-1zM468 281h1v1h-1zM468 287h1v1h-1zM468 293h1v1h-1zM468 299h1v1h-1zM468 305h1v1h-1zM468 311h1v1h-1zM468 317h1v1h-1zM468 323h1v1h-1zM468 329h1v1h-1zM468 335h1v1h-1zM468 341h1v1h-1zM468 347h1v1h-1zM468 353h1v1h-1zM468 359h1v1h-1zM468 365h1v1h-1zM468 371h1v1h-1zM468 377h1v1h-1zM468 383h1v1h-1zM468 389h1v1h-1zM468 395h1v1h-1zM468 401h1v1h-1zM468 407h1v1h-1zM468 413h1v1h-1zM468 419h1v1h-1zM468 425h1v1h-1zM468 431h1v1h-1zM468 437h1v1h-1zM468 443h1v1h-1zM468 449h1v1h-1zM468 455h1v1h-1zM468 461h1v1h-1zM468 467h1v1h-1zM468 473h1v1h-1zM493 47h1v1h-1zM493 53h1v1h-1zM493 59h1v1h-1zM493 65h1v1h-1zM493 71h1v1h-1zM493 77h1v1h-1zM493 83h1v1h-1zM493 89h1v1h-1zM493 95h1v1h-1zM493 101h1v1h-1zM493 107h1v1h-1zM493 113h1v1h-1zM493 119h1v1h-1zM493 125h1v1h-1zM493 131h1v1h-1zM493 137h1v1h-1zM493 143h1v1h-1zM493 149h1v1h-1zM493 155h1v1h-1zM493 161h1v1h-1zM493 167h1v1h-1zM493 173h1v1h-1zM493 179h1v1h-1zM493 185h1v1h-1zM493 191h1v1h-1zM493 197h1v1h-1zM493 203h1v1h-1zM493 209h1v1h-1zM493 215h1v1h-1zM493 221h1v1h-1zM493 227h1v1h-1zM493 233h1v1h-1zM493 239h1v1h-1zM493 245h1v1h-1zM493 251h1v1h-1zM493 257h1v1h-1zM493 263h1v1h-1zM493 269h1v1h-1zM493 275h1v1h-1zM493 281h1v1h-1zM493 287h1v1h-1zM493 293h1v1h-1zM493 299h1v1h-1zM493 305h1v1h-1zM493 311h1v1h-1zM493 317h1v1h-1zM493 323h1v1h-1zM493 329h1v1h-1zM493 335h1v1h-1zM493 341h1v1h-1zM493 347h1v1h-1zM493 353h1v1h-1zM493 359h1v1h-1zM493 365h1v1h-1zM493 371h1v1h-1zM493 377h1v1h-1zM493 383h1v1h-1zM493 389h1v1h-1zM493 395h1v1h-1zM493 401h1v1h-1zM493 407h1v1h-1zM493 413h1v1h-1zM493 419h1v1h-1zM493 425h1v1h-1zM493 431h1v1h-1zM493 437h1v1h-1zM493 443h1v1h-1zM493 449h1v1h-1zM493 455h1v1h-1zM493 461h1v1h-1zM493 467h1v1h-1zM493 473h1v1h-1zM496 47h1v1h-1zM496 53h1v1h-1zM496 59h1v1h-1zM496 65h1v1h-1zM496 71h1v1h-1zM496 77h1v1h-1zM496 83h1v1h-1zM496 89h1v1h-1zM496 95h1v1h-1zM496 101h1v1h-1zM496 107h1v1h-1zM496 113h1v1h-1zM496 119h1v1h-1zM496 125h1v1h-1zM496 131h1v1h-1zM496 137h1v1h-1zM496 143h1v1h-1zM496 149h1v1h-1zM496 155h1v1h-1zM496 161h1v1h-1zM496 167h1v1h-1zM496 173h1v1h-1zM496 179h1v1h-1zM496 185h1v1h-1zM496 191h1v1h-1zM496 197h1v1h-1zM496 203h1v1h-1zM496 209h1v1h-1zM496 215h1v1h-1zM496 221h1v1h-1zM496 227h1v1h-1zM496 233h1v1h-1zM496 239h1v1h-1zM496 245h1v1h-1zM496 251h1v1h-1zM496 257h1v1h-1zM496 263h1v1h-1zM496 269h1v1h-1zM496 275h1v1h-1zM496 281h1v1h-1zM496 287h1v1h-1zM496 293h1v1h-1zM496 299h1v1h-1zM496 305h1v1h-1zM496 311h1v1h-1zM496 317h1v1h-1zM496 323h1v1h-1zM496 329h1v1h-1zM496 335h1v1h-1zM496 341h1v1h-1zM496 347h1v1h-1zM496 353h1v1h-1zM496 359h1v1h-1zM496 365h1v1h-1zM496 371h1v1h-1zM496 377h1v1h-1zM496 383h1v1h-1zM496 389h1v1h-1zM496 395h1v1h-1zM496 401h1v1h-1zM496 407h1v1h-1zM496 413h1v1h-1zM496 419h1v1h-1zM496 425h1v1h-1zM496 431h1v1h-1zM496 437h1v1h-1zM496 443h1v1h-1zM496 449h1v1h-1zM496 455h1v1h-1zM496 461h1v1h-1zM496 467h1v1h-1zM496 473h1v1h-1zM511 47h1v1h-1zM511 53h1v1h-1zM511 59h1v1h-1zM511 65h1v1h-1zM511 71h1v1h-1zM511 77h1v1h-1zM511 83h1v1h-1zM511 89h1v1h-1zM511 95h1v1h-1zM511 101h1v1h-1zM511 107h1v1h-1zM511 113h1v1h-1zM511 119h1v1h-1zM511 125h1v1h-1zM511 131h1v1h-1zM511 137h1v1h-1zM511 143h1v1h-1zM511 149h1v1h-1zM511 155h1v1h-1zM511 161h1v1h-1zM511 167h1v1h-1zM511 173h1v1h-1zM511 179h1v1h-1zM511 185h1v1h-1zM511 191h1v1h-1zM511 197h1v1h-1zM511 203h1v1h-1zM511 209h1v1h-1zM511 215h1v1h-1zM511 221h1v1h-1zM511 227h1v1h-1zM511 233h1v1h-1zM511 239h1v1h-1zM511 245h1v1h-1zM511 251h1v1h-1zM511 257h1v1h-1zM511 263h1v1h-1zM511 269h1v1h-1zM511 275h1v1h-1zM511 281h1v1h-1zM511 287h1v1h-1zM511 293h1v1h-1zM511 299h1v1h-1zM511 305h1v1h-1zM511 311h1v1h-1zM511 317h1v1h-1zM511 323h1v1h-1zM511 329h1v1h-1zM511 335h1v1h-1zM511 341h1v1h-1zM511 347h1v1h-1zM511 353h1v1h-1zM511 359h1v1h-1zM511 365h1v1h-1zM511 371h1v1h-1zM511 377h1v1h-1zM511 383h1v1h-1zM511 389h1v1h-1zM511 395h1v1h-1zM511 401h1v1h-1zM511 407h1v1h-1zM511 413h1v1h-1zM511 419h1v1h-1zM511 425h1v1h-1zM511 431h1v1h-1zM511 437h1v1h-1zM511 443h1v1h-1zM511 449h1v1h-1zM511 455h1v1h-1zM511 461h1v1h-1zM511 467h1v1h-1zM511 473h1v1h-1zM652 47h1v1h-1zM652 53h1v1h-1zM652 59h1v1h-1zM652 65h1v1h-1zM652 71h1v1h-1zM652 77h1v1h-1zM652 83h1v1h-1zM652 89h1v1h-1zM652 95h1v1h-1zM652 101h1v1h-1zM652 107h1v1h-1zM652 113h1v1h-1zM652 119h1v1h-1zM652 125h1v1h-1zM652 131h1v1h-1zM652 137h1v1h-1zM652 143h1v1h-1zM652 149h1v1h-1zM652 155h1v1h-1zM652 161h1v1h-1zM652 167h1v1h-1zM652 173h1v1h-1zM652 179h1v1h-1zM652 185h1v1h-1zM652 191h1v1h-1zM652 197h1v1h-1zM652 203h1v1h-1zM652 209h1v1h-1zM652 215h1v1h-1zM652 221h1v1h-1zM652 227h1v1h-1zM652 233h1v1h-1zM652 239h1v1h-1zM652 245h1v1h-1zM652 251h1v1h-1zM652 257h1v1h-1zM652 263h1v1h-1zM652 269h1v1h-1zM652 275h1v1h-1zM652 281h1v1h-1zM652 287h1v1h-1zM652 293h1v1h-1zM652 299h1v1h-1zM652 305h1v1h-1zM652 311h1v1h-1zM652 317h1v1h-1zM652 323h1v1h-1zM652 329h1v1h-1zM652 335h1v1h-1zM652 341h1v1h-1zM652 347h1v1h-1zM652 353h1v1h-1zM652 359h1v1h-1zM652 365h1v1h-1zM652 371h1v1h-1zM652 377h1v1h-1zM652 383h1v1h-1zM652 389h1v1h-1zM652 395h1v1h-1zM652 401h1v1h-1zM652 407h1v1h-1zM652 413h1v1h-1zM652 419h1v1h-1zM652 425h1v1h-1zM652 431h1v1h-1zM652 437h1v1h-1zM652 443h1v1h-1zM652 449h1v1h-1zM652 455h1v1h-1zM652 461h1v1h-1zM652 467h1v1h-1zM652 473h1v1h-1zM741 47h1v1h-1zM741 53h1v1h-1zM741 59h1v1h-1zM741 65h1v1h-1zM741 71h1v1h-1zM741 77h1v1h-1zM741 83h1v1h-1zM741 89h1v1h-1zM741 95h1v1h-1zM741 101h1v1h-1zM741 107h1v1h-1zM741 113h1v1h-1zM741 119h1v1h-1zM741 125h1v1h-1zM741 131h1v1h-1zM741 137h1v1h-1zM741 143h1v1h-1zM741 149h1v1h-1zM741 155h1v1h-1zM741 161h1v1h-1zM741 167h1v1h-1zM741 173h1v1h-1zM741 179h1v1h-1zM741 185h1v1h-1zM741 191h1v1h-1zM741 197h1v1h-1zM741 203h1v1h-1zM741 209h1v1h-1zM741 215h1v1h-1zM741 221h1v1h-1zM741 227h1v1h-1zM741 233h1v1h-1zM741 239h1v1h-1zM741 245h1v1h-1zM741 251h1v1h-1zM741 257h1v1h-1zM741 263h1v1h-1zM741 269h1v1h-1zM741 275h1v1h-1zM741 281h1v1h-1zM741 287h1v1h-1zM741 293h1v1h-1zM741 299h1v1h-1zM741 305h1v1h-1zM741 311h1v1h-1zM741 317h1v1h-1zM741 323h1v1h-1zM741 329h1v1h-1zM741 335h1v1h-1zM741 341h1v1h-1zM741 347h1v1h-1zM741 353h1v1h-1zM741 359h1v1h-1zM741 365h1v1h-1zM741 371h1v1h-1zM741 377h1v1h-1zM741 383h1v1h-1zM741 389h1v1h-1zM741 395h1v1h-1zM741 401h1v1h-1zM741 407h1v1h-1zM741 413h1v1h-1zM741 419h1v1h-1zM741 425h1v1h-1zM741 431h1v1h-1zM741 437h1v1h-1zM741 443h1v1h-1zM741 449h1v1h-1zM741 455h1v1h-1zM741 461h1v1h-1zM741 467h1v1h-1zM741 473h1v1h-1z" fill="#aa2828"/></svg></body></html>
